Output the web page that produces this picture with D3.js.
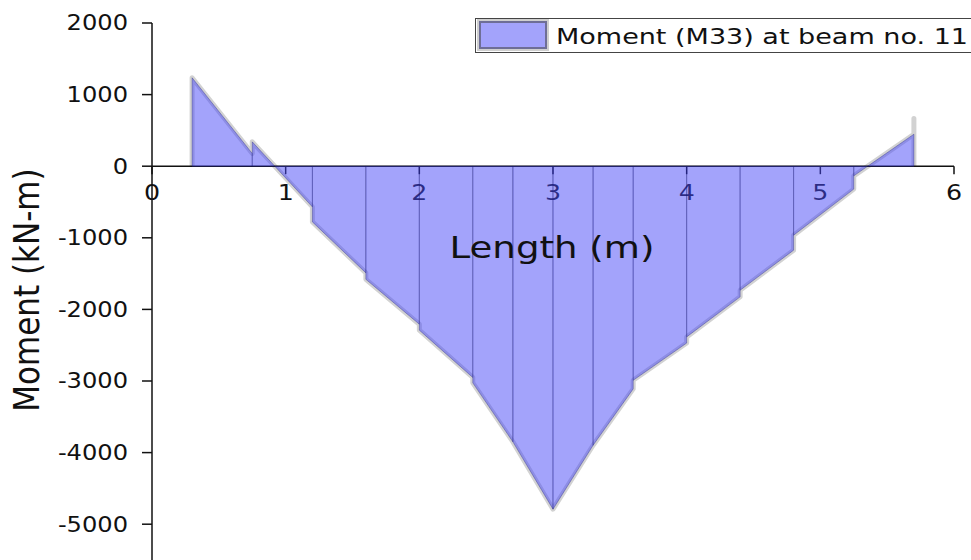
<!DOCTYPE html>
<html>
<head>
<meta charset="utf-8">
<script src="https://cdn.jsdelivr.net/npm/d3@7/dist/d3.min.js"></script>
<style>
  html, body { margin: 0; padding: 0; background: #fff; }
  svg { display: block; }
  text { font-family: "DejaVu Sans", sans-serif; fill: #111; }
</style>
</head>
<body>
<svg id="chart" width="971" height="560"></svg>
<script>
// Element end stations along the beam (m)
const stations = [0.3, 0.75, 1.2, 1.6, 2.0, 2.4, 2.7, 3.0, 3.3, 3.6, 4.0, 4.4, 4.8, 5.25, 5.7];
// Moment at the start (i-end) and end (j-end) of each element (kN-m)
const momentStart = [1235, 340, -778, -1580, -2290, -3026, -3850, -4790, -3897, -2990, -2384, -1732, -964, -135];
const momentEnd   = [177, -568, -1490, -2207, -2951, -3850, -4790, -3897, -3110, -2470, -1825, -1173, -320, 447];
// Ordinate reported at the far support
const closingMoment = 665;

const xTicks = [0, 1, 2, 3, 4, 5, 6];
const yTicks = [2000, 1000, 0, -1000, -2000, -3000, -4000, -5000];
const seriesName = "Moment (M33) at beam no. 11";
const xTitle = "Length (m)";
const yTitle = "Moment (kN-m)";

const svg = d3.select("#chart");
const x = d3.scaleLinear().domain([0, 6]).range([152, 954]);
const y = d3.scaleLinear().domain([-5500, 2000]).range([560, 23]);

// Build one record per element
const elements = momentStart.map((m0, i) => ({
  pts: [{ s: stations[i], m: m0 }, { s: stations[i + 1], m: momentEnd[i] }]
}));

// Outline: up the first support, along every element, up to the end ordinate and back
const outline = [{ s: stations[0], m: 0 }];
elements.forEach(e => outline.push(...e.pts));
outline.push({ s: stations[stations.length - 1], m: closingMoment });
outline.push({ s: stations[stations.length - 1], m: 0 });

const line = d3.line().x(d => x(d.s)).y(d => y(d.m));
const area = d3.area().x(d => x(d.s)).y0(y(0)).y1(d => y(d.m));

const stretch = 1.15;

// Soft grey edge behind the diagram
svg.append("path")
  .attr("d", line(outline))
  .attr("fill", "none")
  .attr("stroke", "#d2d2d2")
  .attr("stroke-width", 5)
  .attr("stroke-linejoin", "round");

// Y axis
const yAxis = svg.append("g");
yAxis.append("line")
  .attr("x1", x(0)).attr("x2", x(0))
  .attr("y1", y(2000)).attr("y2", 560)
  .attr("stroke", "#111").attr("stroke-width", 1.5);
yTicks.forEach(v => {
  yAxis.append("line")
    .attr("x1", x(0) - 10).attr("x2", x(0))
    .attr("y1", y(v)).attr("y2", y(v))
    .attr("stroke", "#111").attr("stroke-width", 1.5);
  yAxis.append("text")
    .attr("transform", `translate(${x(0) - 24},${y(v)}) scale(${stretch},1)`)
    .attr("text-anchor", "end")
    .attr("dominant-baseline", "central")
    .attr("font-size", 21)
    .text(v);
});

// X axis on the zero line
const xAxis = svg.append("g");
xAxis.append("line")
  .attr("x1", x(0)).attr("x2", x(6))
  .attr("y1", y(0)).attr("y2", y(0))
  .attr("stroke", "#111").attr("stroke-width", 1.5);
xTicks.forEach(v => {
  xAxis.append("line")
    .attr("x1", x(v)).attr("x2", x(v))
    .attr("y1", y(0)).attr("y2", y(0) + 8)
    .attr("stroke", "#111").attr("stroke-width", 1.5);
  xAxis.append("text")
    .attr("transform", `translate(${x(v)},${y(0) + 26}) scale(${stretch},1)`)
    .attr("text-anchor", "middle")
    .attr("dominant-baseline", "central")
    .attr("font-size", 22)
    .text(v);
});

// Element fills
svg.append("g").selectAll("path")
  .data(elements)
  .join("path")
  .attr("d", e => area(e.pts))
  .attr("fill", "#4747f7")
  .attr("fill-opacity", 0.5)
  .attr("stroke", "#1e1e78")
  .attr("stroke-opacity", 0.35)
  .attr("stroke-width", 1);

// Axis titles
svg.append("text")
  .attr("x", 552).attr("y", 258)
  .attr("text-anchor", "middle")
  .attr("font-size", 31)
  .attr("textLength", 205)
  .attr("lengthAdjust", "spacingAndGlyphs")
  .text(xTitle);

svg.append("text")
  .attr("transform", "translate(39,290) rotate(-90) scale(1,1.12)")
  .attr("text-anchor", "middle")
  .attr("font-size", 31)
  .text(yTitle);

// Legend
const legend = svg.append("g");
legend.append("rect")
  .attr("x", 475.5).attr("y", 18.5).attr("width", 520).attr("height", 34)
  .attr("fill", "#fff").attr("stroke", "#444").attr("stroke-width", 1);
legend.append("rect")
  .attr("x", 479).attr("y", 21).attr("width", 68).attr("height", 28)
  .attr("fill", "none").attr("stroke", "#cfcfcf").attr("stroke-width", 4);
legend.append("rect")
  .attr("x", 480).attr("y", 22).attr("width", 66).attr("height", 26)
  .attr("fill", "#4747f7").attr("fill-opacity", 0.5)
  .attr("stroke", "#6e6e96").attr("stroke-width", 2);
legend.append("text")
  .attr("x", 556).attr("y", 44)
  .attr("font-size", 21)
  .attr("textLength", 412)
  .attr("lengthAdjust", "spacingAndGlyphs")
  .text(seriesName);
</script>
</body>
</html>
